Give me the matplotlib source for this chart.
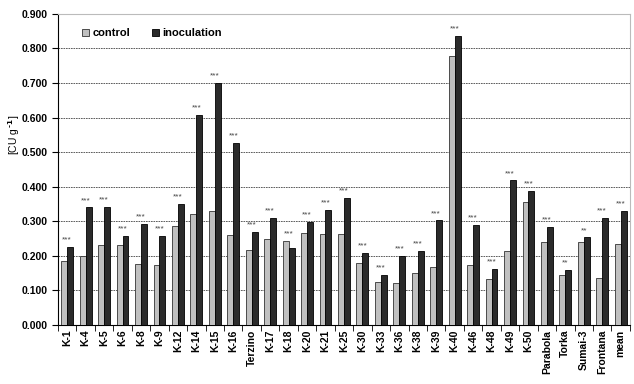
import numpy as np
import matplotlib.pyplot as plt
from matplotlib.ticker import MultipleLocator, FormatStrFormatter

# Data
cultivars = ['K-1', 'K-4', 'K-5', 'K-6', 'K-8', 'K-9', 'K-12', 'K-14', 'K-15', 'K-16',
             'Terzino', 'K-17', 'K-18', 'K-20', 'K-21', 'K-25', 'K-30', 'K-33', 'K-36',
             'K-38', 'K-39', 'K-40', 'K-46', 'K-48', 'K-49', 'K-50', 'Parabola', 'Torka',
             'Sumai-3', 'Frontana', 'mean']
control = [0.185, 0.200, 0.230, 0.230, 0.177, 0.174, 0.285, 0.320, 0.330, 0.260,
           0.217, 0.248, 0.242, 0.265, 0.262, 0.262, 0.180, 0.125, 0.120,
           0.150, 0.168, 0.777, 0.173, 0.133, 0.215, 0.355, 0.240, 0.145,
           0.240, 0.135, 0.235]
inoculation = [0.225, 0.340, 0.342, 0.258, 0.292, 0.258, 0.350, 0.607, 0.700, 0.527,
               0.270, 0.310, 0.222, 0.297, 0.333, 0.368, 0.208, 0.145, 0.200,
               0.213, 0.302, 0.835, 0.288, 0.162, 0.418, 0.387, 0.283, 0.158,
               0.253, 0.310, 0.330]
signif = ['***'] * 27 + ['**', '**', '***', '***']

plt.rcParams['font.family'] = 'Liberation Sans'
plt.rcParams['font.weight'] = 'bold'

fig = plt.figure(figsize=(6.34, 3.84), dpi=100)
ax = fig.add_axes([0.0915, 0.154, 0.902, 0.81])

x = np.arange(len(cultivars))
w = 0.32
ax.bar(x - w / 2, control, w, color='#c0c0c0', edgecolor='#333333', linewidth=0.6,
       label='control', zorder=3)
ax.bar(x + w / 2, inoculation, w, color='#2b2b2b', edgecolor='black', linewidth=0.6,
       label='inoculation', zorder=3)

for xi, c, i, s in zip(x, control, inoculation, signif):
    ax.text(xi, max(c, i) + 0.01, s, ha='center', va='bottom', fontsize=6,
            color='#444444', fontweight='normal')

ax.set_xlim(-0.5, len(cultivars) - 0.5)
ax.set_ylim(0, 0.9)
ax.yaxis.set_major_locator(MultipleLocator(0.1))
ax.yaxis.set_major_formatter(FormatStrFormatter('%.3f'))
ax.grid(axis='y', linestyle=(0, (2, 1)), color='#444444', linewidth=0.6, zorder=0)

ax.set_xticks(x)
ax.set_xticklabels(cultivars, rotation=90, fontsize=7.5, fontweight='bold')
ax.set_xticks(np.arange(len(cultivars) + 1) - 0.5, minor=True)
ax.tick_params(axis='x', which='major', length=0)
ax.tick_params(axis='x', which='minor', length=4, direction='out')
ax.tick_params(axis='y', labelsize=7.5, length=4, direction='out')
for t in ax.get_yticklabels():
    t.set_fontweight('bold')

ax.spines['top'].set_color('#bbbbbb')
ax.spines['right'].set_color('#bbbbbb')
ax.spines['left'].set_linewidth(0.8)
ax.spines['bottom'].set_linewidth(0.8)

fig.text(0.022, 0.65, '[CU g$^{\\,\\text{-1}}$]', rotation=90, ha='center', va='center',
         fontsize=7.5, fontweight='normal')

ax.legend(loc='upper left', bbox_to_anchor=(0.025, 0.985), ncol=2, frameon=False,
          handlelength=0.6, handleheight=0.6, columnspacing=2.0,
          handletextpad=0.3, prop={'weight': 'bold', 'size': 8})

fig.savefig('out.png', dpi=100)
